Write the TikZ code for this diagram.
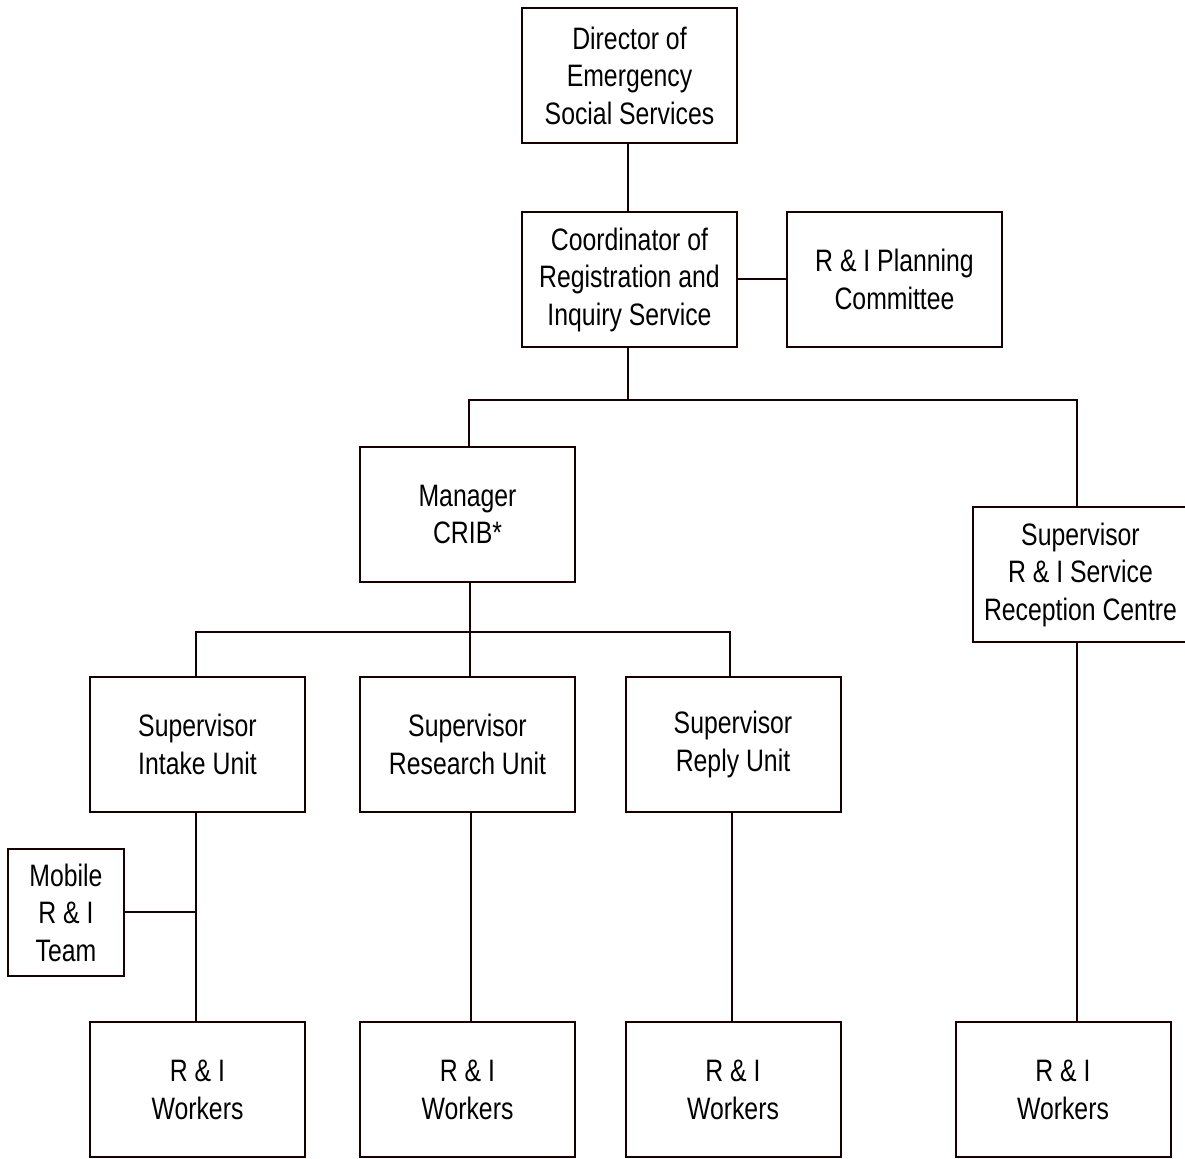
\documentclass[tikz,border=0pt]{standalone}
\usepackage{fontspec}
\setmainfont{Liberation Sans}[FakeStretch=0.80]
\begin{document}
\begin{tikzpicture}[x=0.5pt,y=-0.5pt,
  box/.style={draw=black!90!red, line width=1pt, minimum width=107.5pt, minimum height=67.5pt,
    align=center, inner sep=0pt, font=\fontsize{15.5pt}{18.75pt}\selectfont, text=black},
  conn/.style={draw=black!90!red, line width=1pt}]
\useasboundingbox (0,0) rectangle (1185,1159);
\fill[white] (0,0) rectangle (1185,1159);
\node[box] (dir) at (629.5,75.5) {Director of\\Emergency\\Social Services};
\node[box] (coord) at (629.5,279.5) {Coordinator of\\Registration and\\Inquiry Service};
\node[box] (plan) at (894.5,279.5) {R \& I Planning\\Committee};
\node[box] (mgr) at (467.5,514.5) {Manager\\CRIB*};
\node[box] (rec) at (1080.5,574.5) {Supervisor\\R \& I Service\\Reception Centre};
\node[box] (intake) at (197.5,744.5) {Supervisor\\Intake Unit};
\node[box] (research) at (467.5,744.5) {Supervisor\\Research Unit};
\node[box] (reply) at (733,744.5) {Supervisor\\Reply Unit};
\node[box, minimum width=58pt, minimum height=63.5pt] (mobile) at (66,912.5) {Mobile\\R \& I\\Team};
\node[box] (w1) at (197.5,1090) {R \& I\\Workers};
\node[box] (w2) at (467.5,1090) {R \& I\\Workers};
\node[box] (w3) at (733,1090) {R \& I\\Workers};
\node[box] (w4) at (1063,1090) {R \& I\\Workers};
\coordinate (j1) at (628,400);
\coordinate (j2) at (470,632);
\coordinate (j3) at (196,913);
\draw[conn] (dir.south -| 628,0) -- (coord.north -| 628,0);
\draw[conn] (coord.east) -- (plan.west);
\draw[conn] (coord.south -| j1) -- (j1);
\draw[conn] (mgr.north -| 469,0) |- (j1) -| (rec.north -| 1077,0);
\draw[conn] (mgr.south -| j2) -- (j2);
\draw[conn] (intake.north -| 196,0) |- (j2) -| (reply.north -| 730,0);
\draw[conn] (j2) -- (research.north -| j2);
\draw[conn] (intake.south -| 196,0) -- (w1.north -| 196,0);
\draw[conn] (mobile.east) -- (mobile.east -| j3);
\draw[conn] (research.south -| 471,0) -- (w2.north -| 471,0);
\draw[conn] (reply.south -| 732,0) -- (w3.north -| 732,0);
\draw[conn] (rec.south -| 1077,0) -- (w4.north -| 1077,0);
\end{tikzpicture}
\end{document}
